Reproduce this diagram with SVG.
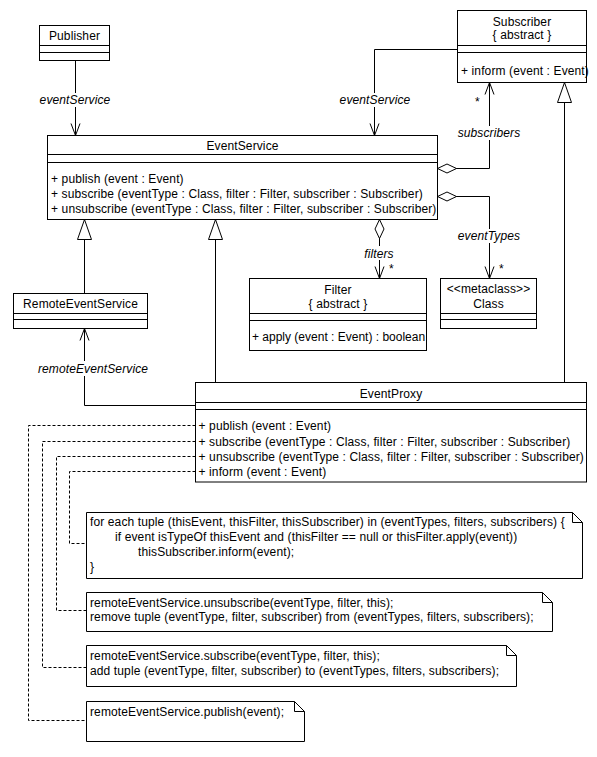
<svg xmlns="http://www.w3.org/2000/svg" width="597" height="757" viewBox="0 0 597 757">
<style>
text{font-family:"Liberation Sans",Arial,sans-serif;font-size:12px;fill:#000;letter-spacing:0.12px}
.c{text-anchor:middle}
.i{font-style:italic}
.t{letter-spacing:0}
.box{fill:#fff;stroke:#000;stroke-width:1}
.ln{stroke:#000;stroke-width:1;fill:none}
.dash{stroke:#000;stroke-width:1;fill:none;stroke-dasharray:3,2}
.bg{fill:#fff;stroke:none}
</style>
<defs>
<marker id="open" markerUnits="userSpaceOnUse" markerWidth="14" markerHeight="11" refX="12" refY="4.5" orient="auto" overflow="visible">
<path d="M0,0 L12,4.5 L0,9" fill="none" stroke="#000" stroke-width="1"/>
</marker>
<marker id="dia" markerUnits="userSpaceOnUse" markerWidth="20" markerHeight="10" refX="0" refY="5" orient="auto" overflow="visible">
<path d="M0,5 L9.5,0.5 L19,5 L9.5,9.5 Z" fill="#fff" stroke="#000" stroke-width="1"/>
</marker>
<marker id="tri" markerUnits="userSpaceOnUse" markerWidth="21" markerHeight="15" refX="20" refY="7" orient="auto" overflow="visible">
<path d="M0,0 L20,7 L0,14 Z" fill="#fff" stroke="#000" stroke-width="1"/>
</marker>
</defs>

<g id="connectors">
<path class="ln" d="M75.5,60.5 V135.5" marker-end="url(#open)"/>
<rect class="bg" x="38" y="93" width="76" height="14"/>
<text class="i c" x="75" y="104">eventService</text>

<path class="ln" d="M457.5,49.5 H374.5 V135.5" marker-end="url(#open)"/>
<rect class="bg" x="337" y="93" width="76" height="14"/>
<text class="i c" x="375" y="104">eventService</text>

<path class="ln" d="M437.5,168.5 H489.5 V82.5" marker-start="url(#dia)" marker-end="url(#open)"/>
<rect class="bg" x="452" y="126" width="74" height="14"/>
<text class="i c" x="489" y="137">subscribers</text>
<text x="475" y="106">*</text>

<path class="ln" d="M437.5,196.5 H489.5 V278.5" marker-start="url(#dia)" marker-end="url(#open)"/>
<rect class="bg" x="456" y="229" width="68" height="14"/>
<text class="i c" x="489" y="240">eventTypes</text>
<text x="499" y="273">*</text>

<path class="ln" d="M379.5,219.5 V278.5" marker-start="url(#dia)" marker-end="url(#open)"/>
<rect class="bg" x="360" y="246" width="40" height="14"/>
<text class="i c" x="379" y="257.5">filters</text>
<text x="389" y="273">*</text>

<path class="ln" d="M84.5,293.5 V219.5" marker-end="url(#tri)"/>
<path class="ln" d="M215.5,382.5 V219.5" marker-end="url(#tri)"/>
<path class="ln" d="M564.5,382.5 V82.5" marker-end="url(#tri)"/>

<path class="ln" d="M195.5,405.5 H84.5 V328.5" marker-end="url(#open)"/>
<rect class="bg" x="37" y="361" width="112" height="15"/>
<text class="i c" x="93" y="372.5">remoteEventService</text>

<path class="dash" d="M195.5,425.5 H28.5 V720.5 H86.5"/>
<path class="dash" d="M195.5,441.5 H42.5 V667.5 H86.5"/>
<path class="dash" d="M195.5,456.5 H56.5 V610.5 H86.5"/>
<path class="dash" d="M195.5,471.5 H69.5 V543.5 H86.5"/>
</g>

<g id="Publisher">
<rect class="box" x="39.5" y="25.5" width="70" height="35"/>
<path class="ln" d="M39.5,45.5 H109.5 M39.5,52.5 H109.5"/>
<text class="c" x="74.5" y="39.5">Publisher</text>
</g>

<g id="Subscriber">
<rect class="box" x="457.5" y="10.5" width="129" height="72"/>
<path class="ln" d="M457.5,45.5 H586.5 M457.5,52.5 H586.5"/>
<text class="c" x="522" y="26">Subscriber</text>
<text class="c" x="522" y="38.5">{ abstract }</text>
<text x="461" y="74.5">+ inform (event : Event)</text>
</g>

<g id="EventService">
<rect class="box" x="47.5" y="135.5" width="390" height="84"/>
<path class="ln" d="M47.5,154.5 H437.5 M47.5,162.5 H437.5"/>
<text class="c" x="242.5" y="150">EventService</text>
<text x="51" y="183">+ publish (event : Event)</text>
<text x="51" y="198">+ subscribe (eventType : Class, filter : Filter, subscriber : Subscriber)</text>
<text x="51" y="213">+ unsubscribe (eventType : Class, filter : Filter, subscriber : Subscriber)</text>
</g>

<g id="RemoteEventService">
<rect class="box" x="13.5" y="293.5" width="134" height="35"/>
<path class="ln" d="M13.5,313.5 H147.5 M13.5,319.5 H147.5"/>
<text class="c" x="80.5" y="308">RemoteEventService</text>
</g>

<g id="Filter">
<rect class="box" x="249.5" y="278.5" width="177" height="72"/>
<path class="ln" d="M249.5,313.5 H426.5 M249.5,320.5 H426.5"/>
<text class="c" x="338" y="294">Filter</text>
<text class="c" x="338" y="307.5">{ abstract }</text>
<text class="t" x="252" y="341">+ apply (event : Event) : boolean</text>
</g>

<g id="Class">
<rect class="box" x="440.5" y="278.5" width="96" height="50"/>
<path class="ln" d="M440.5,313.5 H536.5 M440.5,319.5 H536.5"/>
<text class="c" x="488.5" y="293">&lt;&lt;metaclass&gt;&gt;</text>
<text class="c" x="488.5" y="307.5">Class</text>
</g>

<g id="EventProxy">
<rect class="box" x="195.5" y="382.5" width="391" height="99.5"/>
<path class="ln" d="M195.5,402.5 H586.5 M195.5,409.5 H586.5"/>
<text class="c" x="391" y="397.5">EventProxy</text>
<text x="198.5" y="430">+ publish (event : Event)</text>
<text x="198.5" y="445.5">+ subscribe (eventType : Class, filter : Filter, subscriber : Subscriber)</text>
<text x="198.5" y="460.5">+ unsubscribe (eventType : Class, filter : Filter, subscriber : Subscriber)</text>
<text x="198.5" y="475.5">+ inform (event : Event)</text>
</g>

<g id="note-inform">
<path class="box" d="M86.5,512.5 H572.5 L582.5,522.5 V578.5 H86.5 Z"/>
<path class="ln" d="M572.5,512.5 V522.5 H582.5"/>
<text x="90" y="526">for each tuple (thisEvent, thisFilter, thisSubscriber) in (eventTypes, filters, subscribers) {</text>
<text x="115" y="541">if event isTypeOf thisEvent and (thisFilter == null or thisFilter.apply(event))</text>
<text x="138" y="556">thisSubscriber.inform(event);</text>
<text x="90" y="571">}</text>
</g>

<g id="note-unsubscribe">
<path class="box" d="M86.5,592.5 H542.5 L552.5,602.5 V631.5 H86.5 Z"/>
<path class="ln" d="M542.5,592.5 V602.5 H552.5"/>
<text x="90" y="606.5">remoteEventService.unsubscribe(eventType, filter, this);</text>
<text x="90" y="621">remove tuple (eventType, filter, subscriber) from (eventTypes, filters, subscribers);</text>
</g>

<g id="note-subscribe">
<path class="box" d="M86.5,645.5 H506.5 L516.5,655.5 V686.5 H86.5 Z"/>
<path class="ln" d="M506.5,645.5 V655.5 H516.5"/>
<text x="90" y="660">remoteEventService.subscribe(eventType, filter, this);</text>
<text x="90" y="675">add tuple (eventType, filter, subscriber) to (eventTypes, filters, subscribers);</text>
</g>

<g id="note-publish">
<path class="box" d="M86.5,701.5 H294.5 L304.5,711.5 V741.5 H86.5 Z"/>
<path class="ln" d="M294.5,701.5 V711.5 H304.5"/>
<text x="90" y="716">remoteEventService.publish(event);</text>
</g>
</svg>
